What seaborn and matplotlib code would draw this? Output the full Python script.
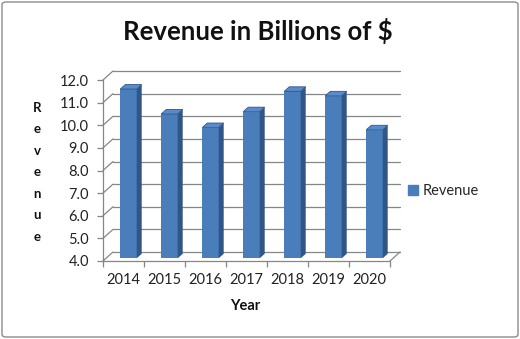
import matplotlib
matplotlib.use("Agg")
import matplotlib.pyplot as plt
import seaborn as sns
import pandas as pd
from matplotlib.patches import Polygon, FancyBboxPatch
from matplotlib.lines import Line2D

years = ["2014", "2015", "2016", "2017", "2018", "2019", "2020"]
revenue = [11.6, 10.5, 9.9, 10.6, 11.5, 11.3, 9.8]
y_ticks = [4.0, 5.0, 6.0, 7.0, 8.0, 9.0, 10.0, 11.0, 12.0]

df = pd.DataFrame({"Year": years, "Revenue": revenue})

sns.set_theme(style="white")
plt.rcParams["font.family"] = ["Lato", "DejaVu Sans"]

W, H = 520, 339
fig = plt.figure(figsize=(W / 100, H / 100), dpi=100)

# axes = front plane of the 3D plot area
ax_l, ax_r, ax_t, ax_b = 103, 390, 80, 261
ax = fig.add_axes([ax_l / W, 1 - ax_b / H, (ax_r - ax_l) / W, (ax_b - ax_t) / H])

front = "#4A7EBB"
side = "#2F5687"
topc = "#5B8ACB"
grid = "#868686"

sns.barplot(data=df, x="Year", y="Revenue", color=front, width=0.4,
            saturation=1, ax=ax, zorder=3, edgecolor="none")
ax.set_xlim(-0.5, 6.5)
ax.set_ylim(4, 12)

# depth offsets in data units (wall depth ~10px right, 9px up)
xr = 7.0 / (ax_r - ax_l)
yr = 8.0 / (ax_b - ax_t)
DX, DY = 10 * xr, 9 * yr
hx, hy = DX / 2, DY / 2

# back wall grid lines and left-wall diagonals
for v in y_ticks:
    ax.plot([-0.5 + DX, 6.5 + DX], [v + DY, v + DY], color=grid, lw=0.9,
            clip_on=False, zorder=1)
    ax.plot([-0.5, -0.5 + DX], [v, v + DY], color=grid, lw=0.9,
            clip_on=False, zorder=1)
# floor
ax.plot([-0.5, 6.5], [4, 4], color=grid, lw=0.9, clip_on=False, zorder=2)
ax.plot([6.5, 6.5 + DX], [4, 4 + DY], color=grid, lw=0.9, clip_on=False, zorder=2)

# 3D faces on bars (bars sit at mid depth)
for p in ax.patches[:len(revenue)]:
    x0, w, top = p.get_x() + hx, p.get_width(), p.get_height()
    b = 4 + hy * 0.6
    p.set_x(x0)
    p.set_y(b)
    p.set_height(top - b)
    t = top
    ax.add_patch(Polygon([(x0 + w, b), (x0 + w + hx, b + hy), (x0 + w + hx, t + hy),
                          (x0 + w, t)], closed=True, facecolor=side,
                         edgecolor="none", zorder=3, clip_on=False))
    ax.add_patch(Polygon([(x0, t), (x0 + w, t), (x0 + w + hx, t + hy), (x0 + hx, t + hy)],
                         closed=True, facecolor=topc, edgecolor=side, lw=0.6,
                         zorder=3, clip_on=False))

for s in ["top", "right", "bottom"]:
    ax.spines[s].set_visible(False)
ax.spines["left"].set_color(grid)
ax.spines["left"].set_linewidth(0.9)
ax.set_yticks(y_ticks)
ax.set_yticklabels([f"{v:.1f}" for v in y_ticks])
ax.set_xticks(range(len(years)))
ax.set_xticklabels(years)
ax.set_xticks([i + 0.5 for i in range(-1, 7)], minor=True)
ax.tick_params(axis="y", left=True, length=4, width=0.9, color=grid, pad=6,
               labelsize=10.5, labelcolor="#222222")
ax.tick_params(axis="x", which="major", bottom=False, length=0, pad=9,
               labelsize=10.5, labelcolor="#222222")
ax.tick_params(axis="x", which="minor", bottom=True, length=4, width=0.9, color=grid)
ax.set_xlabel("")
ax.set_ylabel("")
ax.grid(False)

fig.text(258 / W, 1 - 31 / H, "Revenue in Billions of $", ha="center", va="center",
         fontsize=18.5, fontweight="bold", color="#111111")
fig.text(245 / W, 1 - 306 / H, "Year", ha="center", va="center",
         fontsize=10.5, fontweight="bold", color="#111111")
fig.text(37 / W, 1 - 172 / H, "\n".join("Revenue"), ha="center", va="center",
         fontsize=9.5, fontweight="bold", color="#111111", linespacing=1.95)

handle = Line2D([], [], marker="s", linestyle="none", markersize=6.5,
                markerfacecolor=front, markeredgecolor=front)
fig.legend([handle], ["Revenue"], loc="center left",
           bbox_to_anchor=(393 / W, 1 - 191 / H), frameon=False,
           fontsize=10.5, handletextpad=0.15, handlelength=1.0)

fig.patches.append(FancyBboxPatch((2 / W, 2 / H), (W - 4) / W, (H - 4) / H,
                                  boxstyle="round,pad=0,rounding_size=0.008",
                                  transform=fig.transFigure, facecolor="none",
                                  edgecolor="#8C8C8C", lw=1.0))

fig.savefig("out.png", dpi=100)
